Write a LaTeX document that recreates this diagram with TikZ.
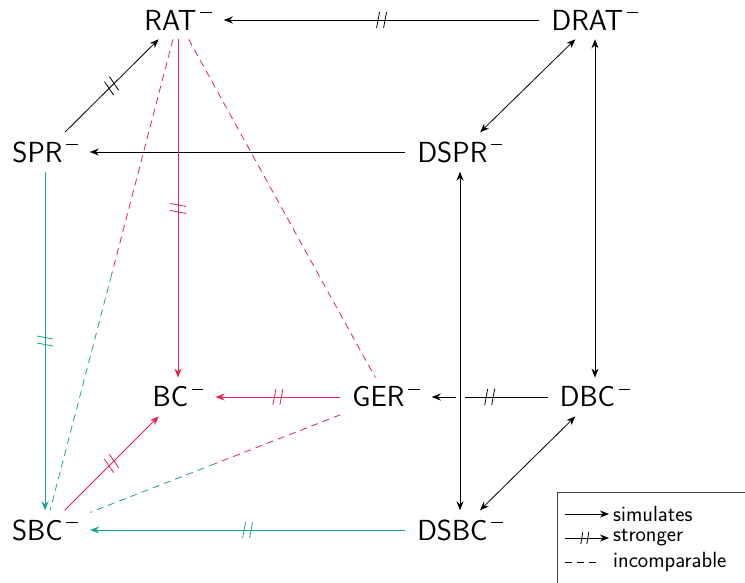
\documentclass[tikz,border=0pt]{standalone}
\usetikzlibrary{arrows.meta,decorations.markings}
\definecolor{cred}{RGB}{232,32,84}
\definecolor{cteal}{RGB}{22,163,148}
\newcommand{\mns}{\hspace{0.12em}\raisebox{0.58em}{\rule{0.4em}{0.04em}}}
\tikzset{
 nd/.style={font=\sffamily\fontsize{29}{32}\selectfont, inner xsep=12pt, inner ysep=9pt},
 lg/.style={font=\sffamily\fontsize{22}{24}\selectfont, inner xsep=0pt, inner ysep=0pt, anchor=west},
 arr/.style={-{Stealth[length=9pt,width=7pt]}, line width=0.8pt},
 darr/.style={{Stealth[length=9pt,width=7pt]}-{Stealth[length=9pt,width=7pt]}, line width=0.8pt},
 strong/.style={postaction={decorate}, decoration={markings, mark=at position 0.5 with {\draw[-,solid,line width=0.8pt] (-5pt,-8pt) -- (-2pt,8pt) (2pt,-8pt) -- (5pt,8pt);}}},
 lstrong/.style={postaction={decorate}, decoration={markings, mark=at position 0.45 with {\draw[-,solid,line width=0.8pt] (-4pt,-6pt) -- (-2pt,6pt) (2pt,-6pt) -- (4pt,6pt);}}},
 inc/.style={dash pattern=on 7pt off 5pt, line width=0.8pt},
}
\begin{document}
\begin{tikzpicture}[x=1pt,y=-1pt]
\useasboundingbox (0,0) rectangle (745,582);
\node[nd] (RAT) at (178,20) {RAT\mns};
\node[nd] (DRAT) at (595,20) {DRAT\mns};
\node[nd] (SPR) at (45,152) {SPR\mns};
\node[nd] (DSPR) at (460,152) {DSPR\mns};
\node[nd] (BC) at (178,397) {BC\mns};
\node[nd] (GER) at (386,397) {GER\mns};
\node[nd] (DBC) at (595,397) {DBC\mns};
\node[nd] (SBC) at (45,530) {SBC\mns};
\node[nd] (DSBC) at (460,530) {DSBC\mns};

\draw[arr, strong] (DRAT) -- (RAT);
\draw[arr, strong] (SPR) -- (RAT);
\draw[darr] (DRAT) -- (DSPR);
\draw[darr] (DRAT) -- (DBC);
\draw[arr] (DSPR) -- (SPR);
\draw[arr, cred, strong] (RAT) -- (BC);
\draw[inc, cred] (RAT) -- (GER);
\path (RAT) -- (SBC) coordinate[pos=0.5] (m1);
\draw[inc, cred] (RAT) -- (m1);
\draw[inc, cteal] (m1) -- (SBC);
\path (GER) -- (SBC) coordinate[pos=0.5] (m2);
\draw[inc, cred] (GER) -- (m2);
\draw[inc, cteal] (m2) -- (SBC);
\draw[arr, cteal, strong] (SPR) -- (SBC);
\draw[arr, cred, strong] (SBC) -- (BC);
\draw[arr, cred, strong] (GER) -- (BC);
\draw[arr, strong] (DBC) -- (GER);
\draw[darr, preaction={draw=white, line width=9pt, -}] (DSPR) -- (DSBC);
\draw[darr] (DBC) -- (DSBC);
\draw[arr, cteal, strong] (DSBC) -- (SBC);

% legend
\draw[line width=0.8pt, black!75] (557,492) rectangle (770,610);
\node[lg] (l1) at (613,514) {simulates};
\node[lg] (l2) at (613,538) {stronger};
\node[lg] (l3) at (613,562) {incomparable};
\coordinate (s1) at (565,514);
\coordinate (s2) at (565,538);
\coordinate (s3) at (565,562);
\draw[arr] (s1) -- ([xshift=-4pt]l1.west);
\draw[arr, lstrong] (s2) -- ([xshift=-4pt]l2.west);
\draw[inc] (s3) -- ([xshift=-12pt]l3.west);
\end{tikzpicture}
\end{document}
